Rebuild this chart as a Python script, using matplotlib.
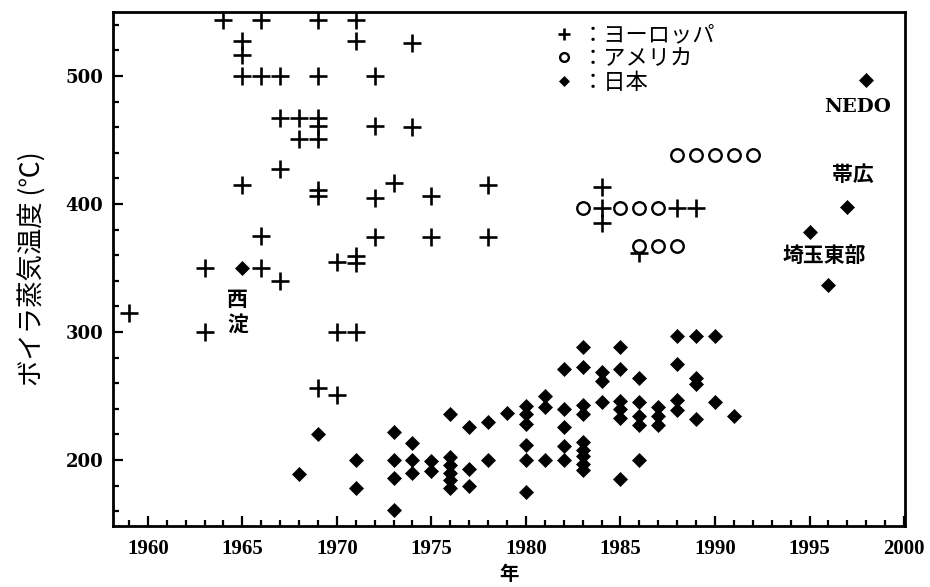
import matplotlib
matplotlib.use('Agg')
import matplotlib.pyplot as plt
from matplotlib.ticker import MultipleLocator

# ---- data ----
eu_year = [1959, 1963, 1963, 1964, 1965, 1965, 1965, 1965, 1966, 1966, 1966, 1966,
           1967, 1967, 1967, 1967, 1968, 1968, 1969, 1969, 1969, 1969, 1969, 1969,
           1969, 1969, 1970, 1970, 1970, 1971, 1971, 1971, 1971, 1971, 1972, 1972,
           1972, 1972, 1973, 1974, 1974, 1975, 1975, 1978, 1978, 1984, 1984, 1984,
           1986, 1988, 1989]
eu_temp = [315, 300, 350, 544, 527, 516, 500, 415, 544, 500, 375, 350,
           500, 467, 427, 340, 467, 451, 544, 500, 467, 461, 451, 411,
           406, 256, 355, 300, 251, 544, 527, 359, 354, 300, 500, 461,
           405, 374, 416, 526, 460, 406, 374, 415, 374, 413, 397, 385,
           362, 397, 397]

us_year = [1983, 1985, 1986, 1987, 1986, 1987, 1988, 1988, 1989, 1990, 1991, 1992]
us_temp = [397, 397, 397, 397, 367, 367, 367, 438, 438, 438, 438, 438]

jp_year = [1965, 1968, 1969, 1971, 1971,
           1973, 1973, 1973, 1973, 1974, 1974, 1974, 1975, 1975,
           1976, 1976, 1976, 1976, 1976, 1976, 1977, 1977, 1977, 1978, 1978, 1979,
           1980, 1980, 1980, 1980, 1980, 1980, 1981, 1981, 1981,
           1982, 1982, 1982, 1982, 1982,
           1983, 1983, 1983, 1983, 1983, 1983, 1983, 1983, 1983,
           1984, 1984, 1984, 1985, 1985, 1985, 1985, 1985, 1985,
           1986, 1986, 1986, 1986, 1986, 1987, 1987, 1987,
           1988, 1988, 1988, 1988, 1989, 1989, 1989, 1989, 1990, 1990, 1991,
           1995, 1996, 1997, 1998]
jp_temp = [350, 189, 220, 200, 178,
           222, 200, 186, 161, 213, 200, 190, 199, 191,
           236, 202, 196, 190, 184, 178, 226, 193, 180, 230, 200, 237,
           242, 236, 228, 212, 200, 175, 250, 241, 200,
           271, 240, 226, 211, 200,
           288, 273, 243, 236, 214, 208, 203, 197, 192,
           269, 262, 245, 288, 271, 246, 240, 233, 185,
           264, 245, 234, 227, 200, 241, 234, 227,
           297, 275, 247, 239, 297, 264, 259, 232, 297, 245, 234,
           378, 337, 398, 497]

series_labels = ['：ヨーロッパ', '：アメリカ', '：日本']

notes = ['西\n淀', 'NEDO', '帯広', '埼玉東部']
note_x = [1964.75, 1997.55, 1997.3, 1995.8]
note_y = [315.5, 476, 423, 360]

x_label = '年'
y_label = 'ボイラ蒸気温度 (℃)'

# ---- figure ----
jp_font = ['Noto Sans CJK JP', 'DejaVu Sans']
fig = plt.figure(figsize=(9.3, 5.87), dpi=100)
ax = fig.add_axes([0.1215, 0.1039, 0.8516, 0.8757])

h1, = ax.plot(eu_year, eu_temp, ls='none', marker='+', ms=13, mew=1.9,
              color='black', label=series_labels[0])
h2, = ax.plot(us_year, us_temp, ls='none', marker='o', ms=9, mew=1.7,
              mfc='white', mec='black', label=series_labels[1])
h3, = ax.plot(jp_year, jp_temp, ls='none', marker='D', ms=7, mew=0.5,
              color='black', label=series_labels[2])

ax.set_xlim(1958.16, 2000.05)
ax.set_ylim(148.4, 550)
ax.xaxis.set_major_locator(MultipleLocator(5))
ax.xaxis.set_minor_locator(MultipleLocator(1))
ax.yaxis.set_major_locator(MultipleLocator(100))
ax.yaxis.set_minor_locator(MultipleLocator(20))
ax.tick_params(which='both', direction='in', top=False, right=False, width=1.6,
               color='black')
ax.tick_params(which='major', length=7)
ax.tick_params(which='minor', length=4)
ax.tick_params(axis='x', which='major', pad=9)
ax.tick_params(axis='y', which='major', pad=7)
for s in ax.spines.values():
    s.set_linewidth(2.0)

for lab in ax.get_xticklabels():
    lab.set_fontfamily('Liberation Serif')
    lab.set_fontweight('bold')
    lab.set_fontsize(15)
for lab in ax.get_yticklabels():
    lab.set_fontfamily('DejaVu Serif')
    lab.set_fontweight('bold')
    lab.set_fontsize(13)

ax.set_xlabel(x_label, family=jp_font, fontsize=14, fontweight='bold', labelpad=5)
ax.set_ylabel(y_label, family=jp_font, fontsize=19, labelpad=14)

leg = ax.legend(handles=[h1, h2, h3], loc='upper left',
                bbox_to_anchor=(0.5556, 0.977), frameon=False,
                prop={'family': jp_font, 'size': 16},
                handlelength=1.0, handletextpad=0.3, labelspacing=0.02,
                borderpad=0, borderaxespad=0, markerscale=0.7)

for t, xx, yy in zip(notes, note_x, note_y):
    if t == 'NEDO':
        ax.text(xx, yy, t, ha='center', va='center', fontsize=14,
                family='DejaVu Serif', fontweight='bold')
    else:
        ax.text(xx, yy, t, ha='center', va='center', fontsize=15,
                family=jp_font, fontweight='bold', linespacing=1.3)

fig.savefig('out.png', dpi=100)
